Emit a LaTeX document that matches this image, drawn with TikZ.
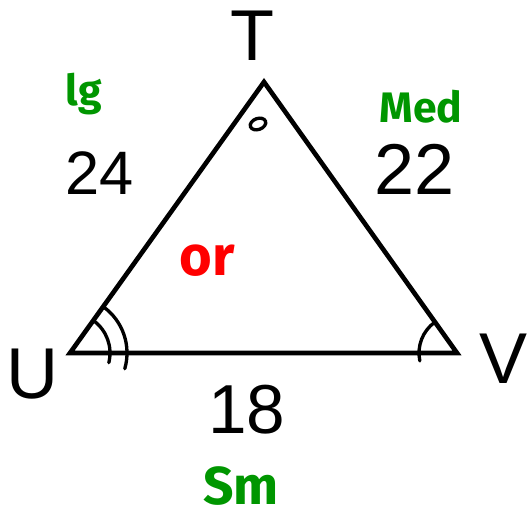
\documentclass[tikz,border=0pt]{standalone}
\usepackage{fontspec}
\setmainfont{Liberation Sans}
\newfontfamily\handfont{Fira Sans}
\definecolor{hgreen}{RGB}{0,150,0}
\definecolor{hred}{RGB}{255,0,0}
\tikzset{
  edge/.style={line width=3.5pt, line join=miter},
  anglemark/.style={line width=2.5pt, line cap=round},
  vlabel/.style={inner sep=0pt, font=\fontsize{54pt}{60pt}\selectfont},
  numlabel/.style={inner sep=0pt},
  handg/.style={inner sep=0pt, text=hgreen, font=\handfont\bfseries},
  handr/.style={inner sep=0pt, text=hred, font=\handfont\bfseries}
}
\begin{document}
\begin{tikzpicture}[x=0.75pt,y=0.75pt]
\useasboundingbox (0,0) rectangle (527,518);
\coordinate (pT) at (264,436);
\coordinate (pU) at (70,165);
\coordinate (pV) at (457,165);
\draw[edge] (pU) -- (pT) -- (pV) -- cycle;
% angle marks
\draw[anglemark] ([shift={(54:40)}]pU) arc[start angle=54, end angle=-14, radius=40];
\draw[anglemark] ([shift={(54:57)}]pU) arc[start angle=54, end angle=-16, radius=57];
\draw[anglemark] ([shift={(126:38)}]pV) arc[start angle=126, end angle=192, radius=38];
\draw[anglemark] (258,394) ellipse[x radius=8, y radius=5.5, rotate=20];
% vertex labels
\node[vlabel] (lT) at (252.5,482) {T};
\node[vlabel] (lU) at (32,144) {U};
\node[vlabel] (lV) at (504,159) {V};
% side lengths
\node[numlabel, font=\fontsize{46pt}{52pt}\selectfont] (s24) at (100,345) {24};
\node[numlabel, font=\fontsize{54pt}{60pt}\selectfont] (s22) at (415,349) {22};
\node[numlabel, font=\fontsize{52pt}{58pt}\selectfont] (s18) at (247,108) {18};
% handwritten notes
\node[handg, font=\handfont\bfseries\fontsize{32pt}{36pt}\selectfont] (nlg) at (84,424) {lg};
\node[handg, font=\handfont\bfseries\fontsize{32pt}{36pt}\selectfont] (nmed) at (421,411) {Med};
\node[handg, font=\handfont\bfseries\fontsize{40pt}{46pt}\selectfont] (nsm) at (241,32) {Sm};
\node[handr, font=\handfont\bfseries\fontsize{42pt}{48pt}\selectfont] (nor) at (207,257) {or};
\end{tikzpicture}
\end{document}
